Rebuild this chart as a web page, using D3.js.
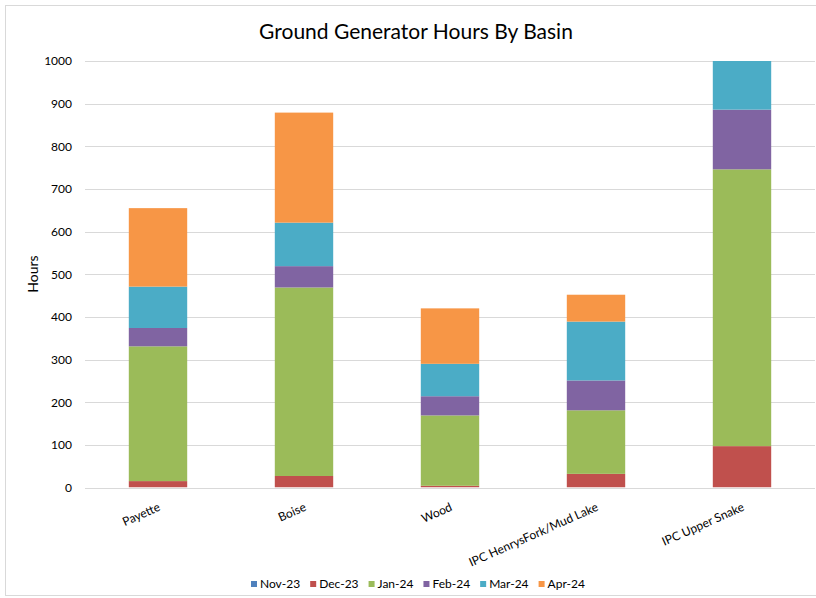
<!DOCTYPE html>
<html><head><meta charset="utf-8">
<script src="https://cdn.jsdelivr.net/npm/d3@7"></script>
<style>body{margin:0;background:#fff}svg{display:block;font-family:Lato,"Noto Sans",sans-serif}</style>
</head><body><svg id="c" width="816" height="598"></svg>
<script>
const categories = ["Payette","Boise","Wood","IPC HenrysFork/Mud Lake","IPC Upper Snake"];
const seriesNames = ["Nov-23","Dec-23","Jan-24","Feb-24","Mar-24","Apr-24"];
const nov23 = [0,0,0,0,0];
const dec23 = [15,27,4,32,97];
const jan24 = [316,442,165,149,649];
const feb24 = [43,50,45,70,140];
const mar24 = [97,102,76,138,114];
const apr24 = [184,258,130,63,0];
const yTicks = [0,100,200,300,400,500,600,700,800,900,1000];
const colors = ["#4F81BD","#C0504D","#9BBB59","#8064A2","#4BACC6","#F79646"];

const seriesVals = [nov23,dec23,jan24,feb24,mar24,apr24];
const rows = categories.map((c,i)=>{const r={cat:c};seriesNames.forEach((s,j)=>r[s]=seriesVals[j][i]);return r;});
const stack = d3.stack().keys(seriesNames)(rows);

const svg = d3.select("#c");
const L=85,R=815,T=61,B=487.5;
const x = d3.scaleBand().domain(categories).range([L,R]).paddingInner(0.6).paddingOuter(0.3);
const y = d3.scaleLinear().domain([0,1000]).range([B,T]);

svg.append("rect").attr("x",5.5).attr("y",5.5).attr("width",830).attr("height",590).attr("fill","#fff").attr("stroke","#d9d9d9");

svg.append("text").attr("x",416).attr("y",39).attr("text-anchor","middle").attr("font-size",21).attr("fill","#000").text("Ground Generator Hours By Basin");

// gridlines
svg.append("g").selectAll("line").data(yTicks).join("line")
 .attr("x1",L).attr("x2",R).attr("y1",d=>Math.round(y(d))+0.5).attr("y2",d=>Math.round(y(d))+0.5)
 .attr("stroke","#d9d9d9").attr("stroke-width",1);

// y axis labels
const ya = svg.append("g").attr("transform",`translate(${L},0)`).call(d3.axisLeft(y).tickValues(yTicks).tickFormat(d3.format("d")).tickSize(0).tickPadding(13));
ya.select(".domain").remove();
ya.selectAll("text").attr("font-family","Lato,'Noto Sans',sans-serif").attr("font-size",12).attr("fill","#000");

svg.append("text").attr("transform","translate(38,274) rotate(-90)").attr("text-anchor","middle").attr("font-size",14).attr("fill","#000").text("Hours");

svg.append("clipPath").attr("id","pc").append("rect").attr("x",L).attr("y",T).attr("width",R-L).attr("height",B-T);

svg.append("g").attr("clip-path","url(#pc)").selectAll("g").data(stack).join("g")
 .attr("fill",(d,i)=>colors[i])
 .selectAll("rect").data(d=>d).join("rect")
 .attr("x",d=>x(d.data.cat)).attr("width",x.bandwidth())
 .attr("y",d=>y(d[1])).attr("height",d=>Math.max(0,y(d[0])-y(d[1])));

// x labels
svg.append("g").selectAll("text").data(categories).join("text")
 .attr("transform",d=>`translate(${x(d)+x.bandwidth()/2+3},${510}) rotate(-24)`)
 .attr("text-anchor","end").attr("font-size",12).attr("fill","#000").text(d=>d);

// legend
const lg = svg.append("g");
let lx = 251;
seriesNames.forEach((s,i)=>{
  lg.append("rect").attr("x",lx).attr("y",581).attr("width",6).attr("height",6).attr("fill",colors[i]);
  const t = lg.append("text").attr("x",lx+9).attr("y",588).attr("font-size",12).attr("fill","#000").text(s);
  lx += 9 + t.node().getComputedTextLength() + 10;
});
</script></body></html>
